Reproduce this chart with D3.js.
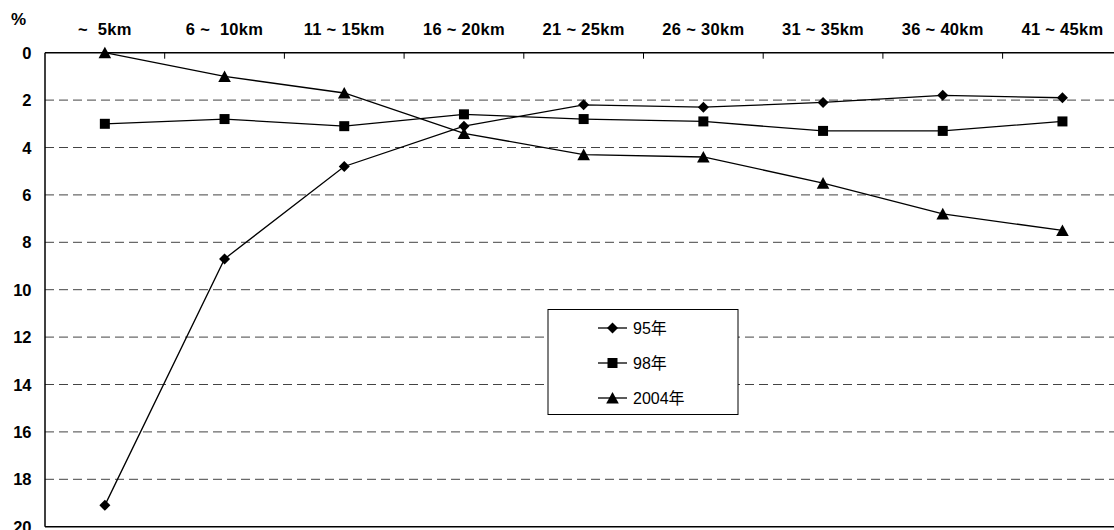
<!DOCTYPE html>
<html><head><meta charset="utf-8">
<script src="https://cdn.jsdelivr.net/npm/d3@7"></script>
<style>
html,body{margin:0;padding:0;background:#fff;}
svg{display:block;}
text{font-family:"Liberation Sans",Arial,"Noto Sans CJK JP",sans-serif;}
</style></head><body>
<svg id="chart" width="1114" height="530"></svg>
<script>
const categories = ["~  5km","6 ~  10km","11 ~ 15km","16 ~ 20km","21 ~ 25km","26 ~ 30km","31 ~ 35km","36 ~ 40km","41 ~ 45km"];
const series95 = [19.1, 8.7, 4.8, 3.1, 2.2, 2.3, 2.1, 1.8, 1.9];
const series98 = [3.0, 2.8, 3.1, 2.6, 2.8, 2.9, 3.3, 3.3, 2.9];
const series2004 = [0, 1.0, 1.7, 3.4, 4.3, 4.4, 5.5, 6.8, 7.5];
const seriesNames = ["95年","98年","2004年"];
const yTicks = [0,2,4,6,8,10,12,14,16,18,20];

(function(){
const svg = d3.select("#chart");
const mLeft = 45, mTop = 52.7, mBottom = 526.7, bandW = 119.7;
const x = d3.scaleBand().domain(categories).range([mLeft, mLeft + bandW*categories.length]);
const y = d3.scaleLinear().domain([0,20]).range([mTop, mBottom]);

// gridlines
svg.append("g").selectAll("line").data(yTicks.filter(d => d>0 && d<20)).join("line")
  .attr("x1", mLeft).attr("x2", x.range()[1])
  .attr("y1", d => y(d)).attr("y2", d => y(d))
  .attr("stroke", "#444").attr("stroke-width", 1).attr("stroke-dasharray", "9,5");

// axes lines
svg.append("line").attr("x1", mLeft).attr("x2", x.range()[1]).attr("y1", y(0)).attr("y2", y(0)).attr("stroke","#000").attr("stroke-width",1.5);
svg.append("line").attr("x1", mLeft).attr("x2", x.range()[1]).attr("y1", y(20)).attr("y2", y(20)).attr("stroke","#000").attr("stroke-width",1.5);
svg.append("line").attr("x1", mLeft).attr("x2", mLeft).attr("y1", y(0)).attr("y2", y(20)).attr("stroke","#000").attr("stroke-width",1.5);

// top ticks at band boundaries
svg.append("g").selectAll("line").data(categories.slice(1)).join("line")
  .attr("x1", d => x(d)).attr("x2", d => x(d))
  .attr("y1", y(0)).attr("y2", y(0)+6).attr("stroke","#000").attr("stroke-width",1);

// category labels
svg.append("g").selectAll("text").data(categories).join("text")
  .attr("x", d => x(d) + x.bandwidth()/2).attr("y", 35)
  .attr("text-anchor","middle").attr("font-size","16.5px").attr("font-weight","bold")
  .attr("letter-spacing","0.3px")
  .style("white-space","pre")
  .text(d => d);

// y labels
svg.append("g").selectAll("text").data(yTicks).join("text")
  .attr("x", 31.5).attr("y", d => y(d) + 6)
  .attr("text-anchor","end").attr("font-size","16.5px").attr("font-weight","bold")
  .text(d => d);
svg.append("text").attr("x", 11).attr("y", 25).attr("font-size","17px").attr("font-weight","bold").text("%");

// marker paths (centered on bounding box)
const markers = [
  "M0,-5.5L5.5,0L0,5.5L-5.5,0Z",
  "M-5,-5L5,-5L5,5L-5,5Z",
  "M0,-6L6.3,5.6L-6.3,5.6Z"
];
const allSeries = [series95, series98, series2004];
const line = d3.line().x((d,i) => x(categories[i]) + x.bandwidth()/2).y(d => y(d));

allSeries.forEach((s, k) => {
  svg.append("path").datum(s).attr("d", line).attr("fill","none").attr("stroke","#000").attr("stroke-width",1.3);
  svg.append("g").selectAll("path").data(s).join("path")
    .attr("transform", (d,i) => `translate(${x(categories[i]) + x.bandwidth()/2},${y(d)})`)
    .attr("d", markers[k]).attr("fill","#000");
});

// legend
const lg = svg.append("g");
lg.append("rect").attr("x",548).attr("y",309.5).attr("width",190).attr("height",105)
  .attr("fill","#fff").attr("stroke","#000").attr("stroke-width",1);
seriesNames.forEach((n,k) => {
  const cy = 328 + k*35;
  lg.append("line").attr("x1",598).attr("x2",627).attr("y1",cy).attr("y2",cy).attr("stroke","#000").attr("stroke-width",1.3);
  lg.append("path").attr("transform",`translate(612.5,${cy})`).attr("d",markers[k]).attr("fill","#000");
  lg.append("text").attr("x",633).attr("y",cy+6).attr("font-size","16px").text(n);
});
})();
</script>
</body></html>
